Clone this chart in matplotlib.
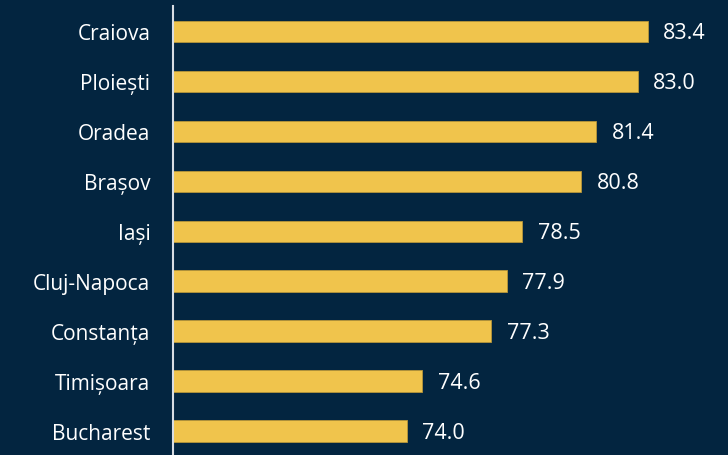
import matplotlib
matplotlib.use("Agg")
import matplotlib.pyplot as plt

cities = ["Craiova", "Ploiești", "Oradea", "Brașov", "Iași", "Cluj-Napoca",
          "Constanța", "Timișoara", "Bucharest"]
values = [83.4, 83.0, 81.4, 80.8, 78.5, 77.9, 77.3, 74.6, 74.0]

BG = "#032540"
BAR = "#f0c44c"

plt.rcParams['font.family'] = ['Open Sans', 'DejaVu Sans']

fig = plt.figure(figsize=(7.28, 4.56), dpi=100, facecolor=BG)
ax = fig.add_axes([172.7 / 728, 0, (728 - 172.7) / 728, (456 - 7) / 456])
ax.set_facecolor(BG)

xmin, xmax = 64.87, 86.53
ypos = list(range(len(cities)))
ax.barh(ypos, [v - xmin for v in values], left=xmin, height=0.43,
        color=BAR, edgecolor="#b8963a", linewidth=0.6, zorder=2)
for y, v in zip(ypos, values):
    ax.text(v + 0.6, y + 0.03, f"{v:.1f}", va="center", ha="left",
            color="white", fontsize=15.5)

ax.set_xlim(xmin, xmax)
ax.set_ylim(8.48, -0.51)
ax.set_yticks(ypos)
ax.set_yticklabels(cities, color="white", fontsize=15)
ax.tick_params(axis="y", length=0, pad=16)
ax.set_xticks([])
for s in ["top", "right", "bottom"]:
    ax.spines[s].set_visible(False)
ax.spines["left"].set_color("#d8dde3")
ax.spines["left"].set_linewidth(1.5)

fig.savefig("out.png", dpi=100, facecolor=BG)
